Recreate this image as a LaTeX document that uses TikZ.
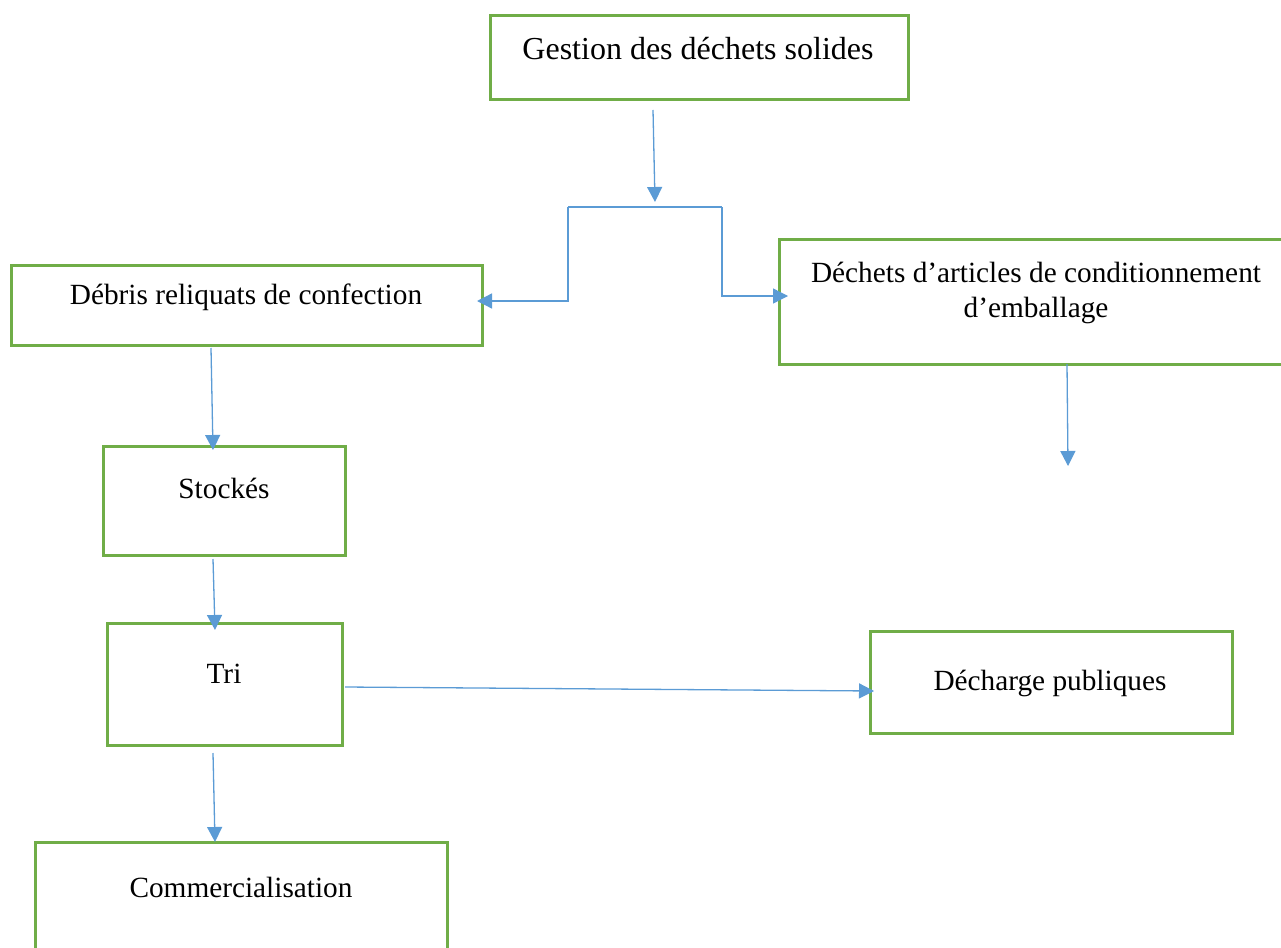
\documentclass[tikz,border=0pt]{standalone}
\usepackage{fontspec}
\setmainfont{Liberation Serif}
\usetikzlibrary{arrows.meta}
\definecolor{boxgreen}{HTML}{70AD47}
\definecolor{arrblue}{HTML}{5B9BD5}
\begin{document}
\begin{tikzpicture}[x=1pt,y=-1pt,
  box/.style={draw=boxgreen,line width=3pt,rectangle,inner sep=0pt},
  txt/.style={anchor=base,inner sep=0pt,font=\fontsize{29.3}{35}\selectfont},
  bigtxt/.style={anchor=base,inner sep=0pt,font=\fontsize{32}{35}\selectfont},
  link/.style={draw=arrblue,line width=1.3pt},
  arr/.style={link,-{Triangle[length=15pt,width=15pt]}}]
\useasboundingbox (0,0) rectangle (1281,947);
\begin{scope}
\clip (0,0) rectangle (1281,947);
% boxes
\draw[box] (490,16) rectangle (908,100);
\draw[box] (11,265) rectangle (482,345);
\draw[box] (779,239) rectangle (1300,364);
\draw[box] (103,446) rectangle (345,555);
\draw[box] (107,623) rectangle (342,745);
\draw[box] (35,842) rectangle (447,980);
\draw[box] (870,631) rectangle (1232,733);
\end{scope}
% texts
\node[bigtxt] (tgest) at (698,60) {Gestion des déchets solides};
\node[txt] (tdeb) at (246,304) {Débris reliquats de confection};
\node[txt] (tdec1) at (1036,282) {Déchets d’articles de conditionnement};
\node[txt] (tdec2) at (1036,317) {d’emballage};
\node[txt] (tstock) at (224,498) {Stockés};
\node[txt] (ttri) at (224,683) {Tri};
\node[txt] (tcomm) at (241,897) {Commercialisation};
\node[txt] (tdech) at (1050,690) {Décharge publiques};
% connector points
\coordinate (g1) at (653,110);
\coordinate (g2) at (655,202);
\coordinate (bl) at (568,207);
\coordinate (br) at (722,207);
\coordinate (tipL) at (477,301);
\coordinate (tipR) at (788,296);
\coordinate (d1) at (211,348);
\coordinate (d2) at (213,450);
\coordinate (s1) at (213,559);
\coordinate (s2) at (215,630);
\coordinate (t1) at (213,753);
\coordinate (t2) at (215,842);
\coordinate (t3) at (345,687);
\coordinate (t4) at (874,691);
\coordinate (e1) at (1067,364);
\coordinate (e2) at (1068,466);
% connectors
\draw[arr] (g1) -- (g2);
\draw[link] (bl) -- (br);
\draw[arr] (bl) |- (tipL);
\draw[arr] (br) |- (tipR);
\draw[arr] (d1) -- (d2);
\draw[arr] (s1) -- (s2);
\draw[arr] (t1) -- (t2);
\draw[arr] (t3) -- (t4);
\draw[arr] (e1) -- (e2);
\end{tikzpicture}
\end{document}
